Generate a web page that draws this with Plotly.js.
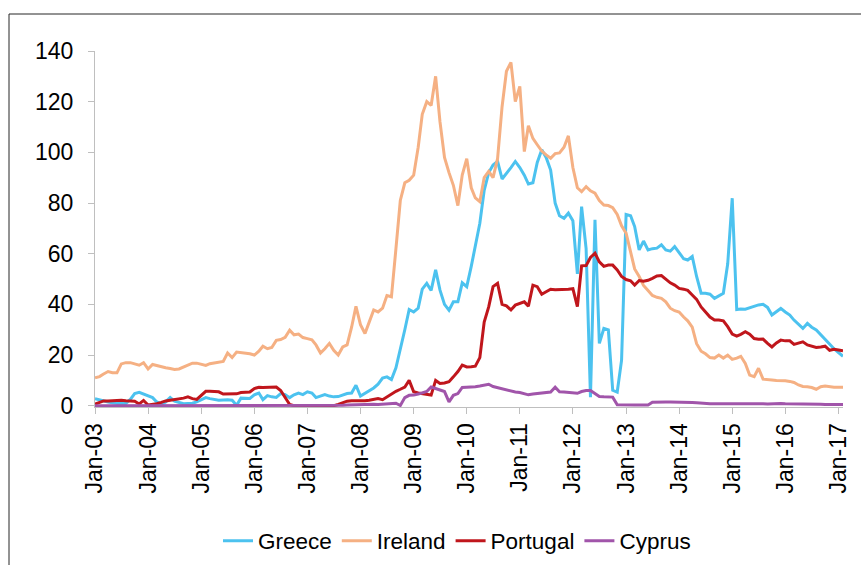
<!DOCTYPE html>
<html>
<head>
<meta charset="utf-8">
<script src="https://cdn.plot.ly/plotly-3.0.1.min.js"></script>
<style>
  html, body { margin: 0; padding: 0; background: #ffffff; }
  #chart { width: 861px; height: 565px; }
</style>
</head>
<body>
<div id="chart"></div>
<script>
// Monthly series, Jan 2003 .. Feb 2017 (one row per year)
const startYear = 2003;
const seriesNames = ["Greece", "Ireland", "Portugal", "Cyprus"];

const greece = [
  2.8, 2.3, 1.8, 1.5, 1.2, 0.9, 1.0, 0.9, 2.5, 4.8, 5.3, 4.6,
  4.0, 3.2, 1.5, 0.6, 1.5, 3.2, 1.8, 1.2, 0.8, 0.9, 1.0, 1.5,
  2.5, 3.2, 2.8, 2.4, 2.2, 2.3, 2.4, 2.2, 0.2, 3.0, 2.8, 2.9,
  4.3, 5.0, 2.4, 4.0, 3.5, 3.3, 4.8, 4.4, 3.2, 4.3, 5.0, 4.4,
  5.5, 5.0, 3.2, 3.8, 4.4, 3.8, 3.5, 3.6, 4.3, 4.8, 5.0, 8.1,
  3.8, 4.8, 5.8, 7.0, 8.5, 10.9, 11.4, 10.3, 15, 22, 30, 38,
  37, 38.5, 46, 48.3, 45.5, 53.6, 45.6, 40, 37.7, 41, 41, 48.5,
  47, 55, 63, 72, 85, 92, 95, 96.4, 89.5, 91.5, 94, 96.4,
  94, 91, 87.5, 88, 96, 101, 98, 93, 80, 75, 74, 76,
  73, 52, 78.6, 62, 3.4, 73.4, 24.6, 30.5, 29.9, 6.1, 5.4, 18,
  75.5, 75, 70.7, 61.5, 65, 61.5, 62, 62.2, 63.5, 61.5, 61, 62.8,
  60.2, 58, 57.5, 58.9, 51, 44.4, 44.4, 44, 42.4, 43.5, 44.4, 56,
  81.9, 38, 38.2, 38.1, 38.7, 39.2, 39.8, 40, 38.8, 35.8, 37, 38.4,
  37, 35.8, 33.8, 32, 30.5, 32.5, 31, 29.9, 28, 26, 24, 22.5,
  21, 19.5
];

const ireland = [
  11, 11.5, 12.5, 13.5, 13, 13, 16.5, 17, 17, 16.5, 16, 17,
  14.5, 16.3, 15.8, 15.3, 15, 14.7, 14.3, 14.5, 15.3, 15.8, 16.8, 16.8,
  16.2, 15.9, 16.6, 17, 17.2, 17.5, 20.8, 19, 21.2, 21, 20.8, 20.5,
  20, 21.5, 23.5, 22.5, 23, 25.8, 26.1, 27, 29.8, 28, 28.3, 26.9,
  26.5, 26, 24, 20.8, 22.5, 24.6, 21.9, 20, 23.2, 24, 31, 39.2,
  32, 28.5, 33, 37.8, 37, 38.5, 43.5, 43, 62, 81, 88, 89,
  91, 102, 115, 120, 118.5, 130, 112, 98, 92, 87, 79, 91,
  97.5, 86, 82, 80.5, 90, 92.5, 90, 97.5, 118, 132, 135.5, 120,
  126, 100.3, 110.5, 105.5, 103, 100.5, 99, 97.7, 99.5, 99.8, 102, 106.5,
  94, 86, 84.5, 86.5, 84.8, 83.9, 81, 79.2, 79, 78.2, 75.5, 71,
  68.1, 61, 54, 51, 47.5, 45.5, 43.5, 42.8, 42.4, 41, 38.5, 37.5,
  37, 35, 33.5, 31, 24.5, 21.5, 20.5, 19, 18.8, 20, 18.8, 20,
  18.3, 18.8, 19.5, 16.7, 12.1, 11.5, 14.8, 10.5, 10.2, 10.2, 10, 10,
  9.9, 9.6, 9.2, 8.2, 7.6, 7.5, 7.2, 6.5, 7.5, 7.8, 7.5, 7.3,
  7.3, 7.3
];

const portugal = [
  0.6, 1.4, 1.9, 1.9, 2.0, 2.3, 2.2, 2.0, 1.9, 1.8, 0.7, 2.1,
  0.3, 0.5, 0.8, 1.3, 1.9, 2.2, 2.4, 2.6, 3.0, 3.5, 2.8, 2.5,
  4.2, 5.7, 5.7, 5.6, 5.5, 4.6, 4.6, 4.5, 4.7, 5.2, 5.3, 5.4,
  6.8, 7.3, 7.2, 7.2, 7.3, 7.4, 6.0, 3.4, 0.5, 0, 0, 0,
  0, 0, 0, 0, 0, 0, 0, 0.5, 1.2, 1.8, 2.0, 2.0,
  1.9, 2.0, 2.2, 2.6, 2.8, 2.4, 3.5, 4.8, 5.7, 6.5, 7.4, 10,
  5.5, 5.0, 4.8, 4.6, 4.2, 10, 8.8, 9.0, 9.5, 11.4, 13.5, 16,
  15.3, 15.4, 15.6, 19, 33, 39, 47, 48.3, 40, 39.4, 37.8, 39.7,
  40.4, 41, 39.3, 47.6, 47, 44, 45, 46, 45.8, 45.8, 45.9, 46,
  46.2, 39.1, 55.2, 55.3, 58.5, 60.2, 56.8, 55, 55.5, 55.5, 53.6, 51,
  49.8, 49.3, 47.6, 49.4, 49.1, 49.5, 50.3, 51.2, 51.4, 49.9, 48.5, 47.6,
  46.3, 46, 45.5, 43.7, 42, 39, 37, 35, 33.8, 33.8, 33.5, 31.2,
  28.3, 27.5, 28.2, 29.2, 28.2, 26.5, 26.2, 26.3, 24.6, 23.2, 24.8, 25.9,
  25.6, 25.6, 24.2, 24.8, 25.2, 24, 23.4, 23, 23.2, 23.5, 21.9, 22.3,
  22, 21.7
];

const cyprus = [
  0, 0, 0, 0, 0, 0, 0, 0, 0, 0, 0, 0,
  0, 0, 0, 0, 0, 0, 0, 0, 0, 0, 0, 0,
  0, 0, 0, 0, 0, 0, 0, 0, 0, 0, 0, 0,
  0, 0, 0, 0, 0, 0, 0, 0, 0, 0, 0, 0,
  0, 0, 0, 0, 0, 0, 0, 0, 0.2, 0.3, 0.4, 0.4,
  0.3, 0.4, 0.5, 0.6, 0.5, 0.6, 0.7, 0.9, 1.0, 0.1, 3.2, 4.1,
  4.2, 4.6, 5.2, 5.6, 7.4, 6.9, 6.2, 5.6, 1.5, 4.1, 4.8, 7.2,
  7.3, 7.3, 7.5, 7.8, 8.2, 8.5, 7.6, 7.1, 6.6, 6.3, 5.8, 5.4,
  5.2, 4.8, 4.3, 4.6, 4.8, 4.8, 5.0, 5.4, 7.3, 5.5, 5.4, 5.2,
  5.1, 4.9, 5.6, 6.0, 6.0, 4.6, 3.6, 3.5, 3.5, 3.4, 0.4, 0.3,
  0.3, 0.3, 0.3, 0.3, 0.3, 0.3, 1.4, 1.5, 1.5, 1.5, 1.5, 1.5,
  1.5, 1.4, 1.4, 1.3, 1.2, 1.0, 0.9, 0.8, 0.8, 0.8, 0.9, 0.9,
  1.0, 0.9, 0.9, 0.8, 0.8, 0.8, 0.8, 0.8, 0.7, 0.8, 1.1, 0.9,
  0.8, 0.8, 0.7, 0.7, 0.7, 0.6, 0.6, 0.6, 0.6, 0.5, 0.5, 0.5,
  0.5, 0.5
];

const yTicks = [0, 20, 40, 60, 80, 100, 120, 140];

function monthDates(n) {
  const out = [];
  for (let i = 0; i < n; i++) {
    const y = startYear + Math.floor(i / 12);
    const m = (i % 12) + 1;
    out.push(y + "-" + (m < 10 ? "0" + m : m) + "-01");
  }
  return out;
}

const colors = ["#4CC2EF", "#F5B083", "#C0161C", "#A155AA"];
const values = [greece, ireland, portugal, cyprus];
const dates = monthDates(greece.length);

const traces = values.map((v, i) => ({
  type: "scatter",
  mode: "lines",
  name: seriesNames[i],
  x: dates,
  y: v,
  line: { color: colors[i], width: 3 },
  hoverinfo: "skip"
}));

const FONT = "Liberation Sans, Arial, sans-serif";
const W = 861, H = 565;
const L = 95, R = 18, T = 51, B = 158;
const plotW = W - L - R, plotH = H - T - B;

const layout = {
  width: W, height: H,
  margin: { l: L, r: R, t: T, b: B, pad: 0, autoexpand: false },
  paper_bgcolor: "#ffffff",
  plot_bgcolor: "#ffffff",
  font: { family: FONT, color: "#000000", size: 23 },
  showlegend: true,
  legend: {
    orientation: "h",
    x: (457 - L) / plotW, xanchor: "center",
    y: -(541 - (T + plotH)) / plotH, yanchor: "middle",
    font: { family: FONT, size: 22.5, color: "#000000" },
    itemwidth: 30,
    tracegroupgap: 0,
    bgcolor: "rgba(0,0,0,0)"
  },
  xaxis: {
    type: "date",
    range: ["2003-01-01", "2017-02-01"],
    tickmode: "linear",
    tick0: "2003-01-01",
    dtick: "M12",
    tickformat: "%b-%y",
    tickangle: -90,
    ticks: "outside",
    ticklen: 6,
    tickwidth: 1,
    tickcolor: "#BFBFBF",
    showline: true,
    linecolor: "#BFBFBF",
    linewidth: 1,
    showgrid: false,
    zeroline: false,
    tickfont: { family: FONT, size: 23, color: "#000000" },
    fixedrange: true
  },
  yaxis: {
    range: [-0.5, 140],
    tickmode: "array",
    tickvals: yTicks,
    ticktext: yTicks.map(String),
    ticks: "outside",
    ticklen: 6,
    tickwidth: 1,
    tickcolor: "#BFBFBF",
    showline: true,
    linecolor: "#BFBFBF",
    linewidth: 1,
    showgrid: false,
    zeroline: false,
    ticklabelstandoff: 10,
    tickfont: { family: FONT, size: 23, color: "#000000" },
    fixedrange: true
  },
  shapes: [{
    type: "rect",
    xref: "paper", yref: "paper",
    x0: (9 - L) / plotW, x1: (W + 20 - L) / plotW,
    y0: -(H + 20 - (T + plotH)) / plotH, y1: ((T + plotH) - 14) / plotH,
    line: { color: "#262626", width: 1 },
    fillcolor: "rgba(0,0,0,0)",
    layer: "below"
  }]
};

Plotly.newPlot("chart", traces, layout, { staticPlot: true, displayModeBar: false });
</script>
</body>
</html>
